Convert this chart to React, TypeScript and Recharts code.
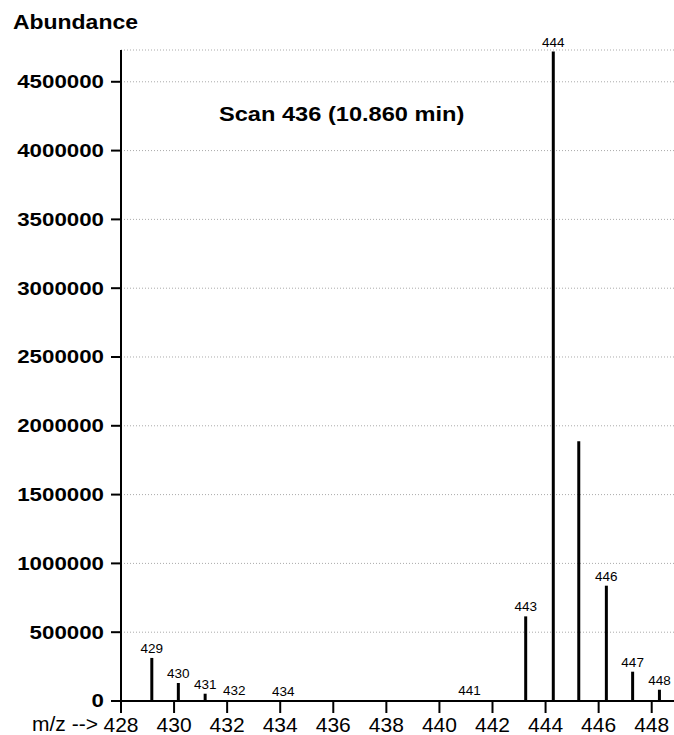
import React from "react";
import { BarChart, Bar, XAxis, YAxis, CartesianGrid, LabelList } from "recharts";

const mz = [429.17, 430.17, 431.18, 432.28, 434.12, 441.14, 443.26, 444.3, 445.26, 446.3, 447.29, 448.3];
const abundance = [313000, 131000, 53000, 5000, 3000, 5000, 615000, 4720000, 1887000, 838000, 213000, 82000];
const peakLabels = ["429", "430", "431", "432", "434", "441", "443", "444", "", "446", "447", "448"];
const xTicks = [428, 430, 432, 434, 436, 438, 440, 442, 444, 446, 448];
const yTicks = [0, 500000, 1000000, 1500000, 2000000, 2500000, 3000000, 3500000, 4000000, 4500000];

const data = mz.map((m, i) => ({ mz: m, value: abundance[i], label: peakLabels[i] }));

const FONT = "'Liberation Sans', Arial, Helvetica, sans-serif";

const YTick = (props: any) => {
  const { x, y, payload } = props;
  const s = String(payload.value);
  return (
    <text
      x={x}
      y={y}
      dy={6.4}
      textAnchor="end"
      fontFamily={FONT}
      fontWeight="bold"
      fontSize={18}
      fill="#000"
      textLength={12.4 * s.length}
      lengthAdjust="spacingAndGlyphs"
    >
      {s}
    </text>
  );
};

const XTick = (props: any) => {
  const { x, y, payload } = props;
  return (
    <text x={x} y={y} dy={17} textAnchor="middle" fontFamily={FONT} fontSize={21} fill="#000">
      {String(payload.value)}
    </text>
  );
};

export default function App() {
  return (
    <div style={{ position: "absolute", left: 0, top: 0, width: 674, height: 735, background: "#fff", overflow: "hidden" }}>
      <BarChart width={674} height={735} data={data} margin={{ top: 50, right: 0, bottom: 0, left: 0 }}>
        <CartesianGrid vertical={false} stroke="#aaa" strokeDasharray="1 2" strokeWidth={1} />
        <XAxis
          dataKey="mz"
          type="number"
          domain={[428, 448.84]}
          ticks={xTicks}
          allowDataOverflow
          height={34}
          tickSize={12}
          tickMargin={2}
          axisLine={{ stroke: "#000", strokeWidth: 2 }}
          tickLine={{ stroke: "#000", strokeWidth: 2 }}
          tick={<XTick />}
          interval={0}
        />
        <YAxis
          type="number"
          domain={[0, 4731000]}
          ticks={yTicks}
          allowDataOverflow
          width={121}
          tickSize={10}
          tickMargin={7}
          axisLine={{ stroke: "#000", strokeWidth: 2 }}
          tickLine={{ stroke: "#000", strokeWidth: 2 }}
          tick={<YTick />}
          interval={0}
        />
        <Bar dataKey="value" fill="#000" barSize={3} isAnimationActive={false}>
          <LabelList dataKey="label" position="top" offset={5} fontFamily={FONT} fontSize={13.5} fill="#000" />
        </Bar>
      </BarChart>
      <div
        style={{
          position: "absolute",
          left: 13,
          top: 12,
          fontFamily: FONT,
          fontWeight: "bold",
          fontSize: 20,
          lineHeight: "20px",
          whiteSpace: "nowrap",
          transform: "scaleX(1.147)",
          transformOrigin: "left top",
        }}
      >
        Abundance
      </div>
      <div
        style={{
          position: "absolute",
          left: 219,
          top: 104,
          fontFamily: FONT,
          fontWeight: "bold",
          fontSize: 20,
          lineHeight: "20px",
          whiteSpace: "nowrap",
          transform: "scaleX(1.18)",
          transformOrigin: "left top",
        }}
      >
        Scan 436 (10.860 min)
      </div>
      <div
        style={{
          position: "absolute",
          left: 32,
          top: 713,
          fontFamily: FONT,
          fontSize: 21,
          lineHeight: "21px",
          whiteSpace: "nowrap",
        }}
      >
        m/z --&gt;
      </div>
    </div>
  );
}
